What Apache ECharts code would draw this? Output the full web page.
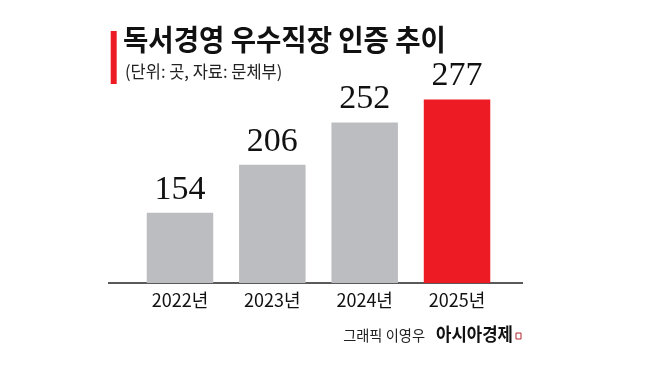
<!DOCTYPE html>
<html><head><meta charset="utf-8">
<script src="https://cdn.jsdelivr.net/npm/echarts@6/dist/echarts.min.js"></script>
<style>html,body{margin:0;padding:0;background:#fff}#c{width:658px;height:366px}</style>
</head><body><div id="c"></div>
<script>
const categories = ['2022년', '2023년', '2024년', '2025년'];
const values = [154, 206, 252, 277];
const titleText = '독서경영 우수직장 인증 추이';
const subtitleText = '(단위: 곳, 자료: 문체부)';
const creditText = '그래픽 이영우';
const brandText = '아시아경제';

const highlightIndex = 3;
const grayColor = '#bcbdc0';
const redColor = '#ed1c24';
const KR = '"Noto Sans CJK KR", "Noto Sans", sans-serif';

const chart = echarts.init(document.getElementById('c'), null, {renderer: 'canvas'});
chart.setOption({
  animation: false,
  backgroundColor: '#ffffff',
  grid: {left: 133.8, right: 154.8, top: 78.4, bottom: 83},
  xAxis: {
    type: 'category',
    data: categories,
    axisLine: {show: false},
    axisTick: {show: false},
    axisLabel: {color: '#111', fontSize: 18, fontFamily: KR, margin: 8}
  },
  yAxis: {
    type: 'value', min: 77.5, max: 300,
    show: false, splitLine: {show: false}
  },
  series: [{
    type: 'bar',
    barWidth: 66.5,
    data: values.map((v, i) => ({
      value: v,
      itemStyle: {color: i === highlightIndex ? redColor : grayColor}
    })),
    label: {
      show: true, position: 'top', distance: 6,
      color: '#111', fontSize: 34,
      fontFamily: '"Liberation Serif", "DejaVu Serif", serif'
    }
  }],
  graphic: [
    {type: 'rect', shape: {x: 110.7, y: 31, width: 6, height: 53}, style: {fill: redColor}},
    {type: 'text', x: 123, y: 25, scaleX: 0.95,
      style: {text: titleText, fill: '#111', font: 'bold 29px ' + KR}},
    {type: 'text', x: 125, y: 63, scaleX: 0.97,
      style: {text: subtitleText, fill: '#222', font: '17px ' + KR}},
    {type: 'line', shape: {x1: 108, y1: 283, x2: 523, y2: 283}, style: {stroke: '#222', lineWidth: 1.5}},
    {type: 'text', x: 425, y: 328, scaleX: 0.95,
      style: {text: creditText, fill: '#222', font: '15px ' + KR, align: 'right'}},
    {type: 'text', x: 513, y: 325, scaleX: 0.93,
      style: {text: brandText, fill: '#111', font: 'bold 18px ' + KR, align: 'right'}},
    {type: 'rect', shape: {x: 516, y: 333, width: 5, height: 6}, style: {fill: 'none', stroke: '#b0272d', lineWidth: 1}}
  ]
});
</script></body></html>
